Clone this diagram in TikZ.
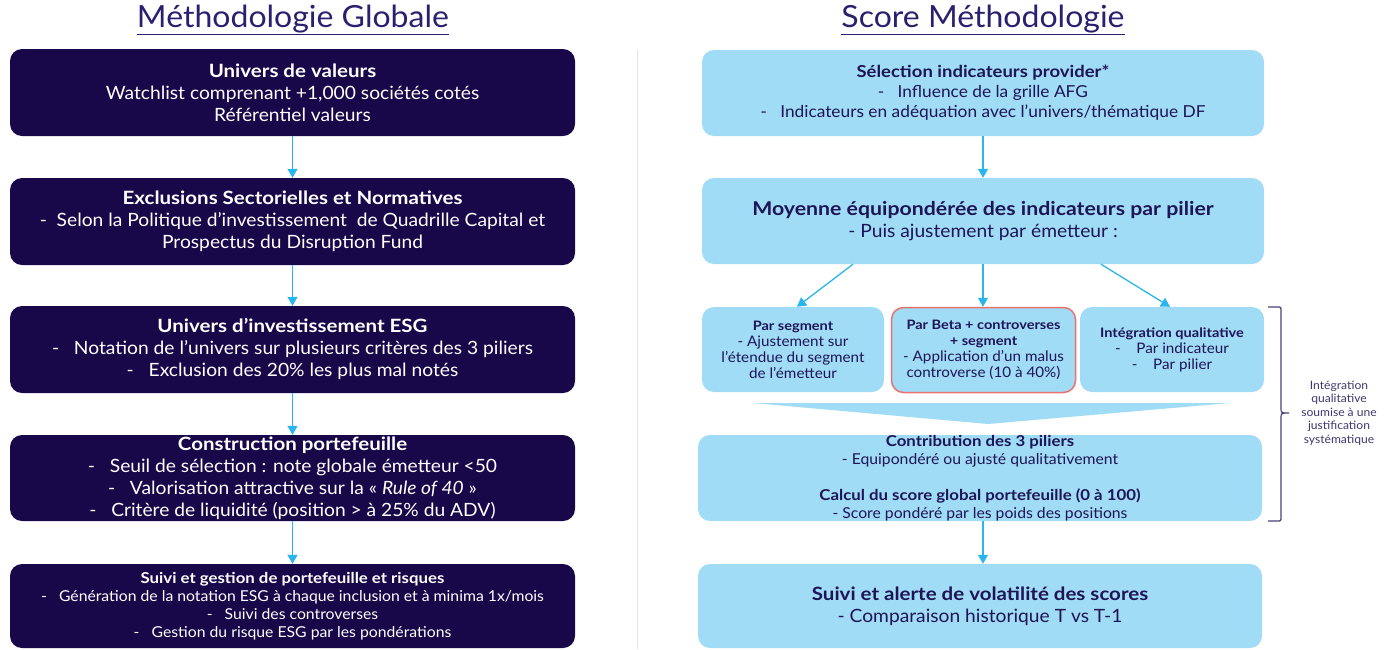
\documentclass[tikz,border=0pt]{standalone}
\usepackage{fontspec}
\setmainfont{Lato}[FakeStretch=1.05, BoldFeatures={FakeStretch=1.12}, ItalicFeatures={FakeStretch=1.05}]
\usetikzlibrary{arrows.meta}
\definecolor{navy}{HTML}{18084A}
\definecolor{navytxt}{HTML}{1E1456}
\definecolor{titlec}{HTML}{2B2070}
\definecolor{lblue}{HTML}{A0DCF5}
\definecolor{cyanarr}{HTML}{29B6EC}
\definecolor{redb}{HTML}{E8736F}
\definecolor{sepc}{HTML}{E3E3E3}
\definecolor{bracec}{HTML}{4B3F7A}
\newcommand\smhd[1]{{\fontsize{13}{16}\selectfont\textbf{#1}}}
\tikzset{
  darkbox/.style={fill=navy, rounded corners=12pt, text=white, align=center, inner sep=0pt, minimum width=565pt},
  lightbox/.style={fill=lblue, rounded corners=12pt, text=navytxt, align=center, inner sep=0pt},
  arr/.style={draw=cyanarr, line width=1.3pt, -{Triangle[length=9pt,width=10pt]}},
  ttl/.style={font=\fontsize{30.5}{34}\selectfont, text=titlec, inner sep=0pt},
  fA/.style={font=\fontsize{18.3}{22}\selectfont},
  fB/.style={font=\fontsize{15}{18}\selectfont},
  fC/.style={font=\fontsize{16.5}{20}\selectfont},
  fD/.style={font=\fontsize{14.5}{16}\selectfont},
}
\begin{document}
\begin{tikzpicture}[x=1pt,y=-1pt]
\useasboundingbox (0,0) rectangle (1390,649);
% titles
\node[ttl] (T1) at (293,20) {\underline{Méthodologie Globale}};
\node[ttl] (T2) at (983,20) {\underline{Score Méthodologie}};
% separator
\draw[sepc, line width=1pt] (637,50) -- (637,649);
% left column
\node[darkbox, minimum height=87pt, fA] (L1) at (292.5,92.5)
  {\textbf{Univers de valeurs}\\Watchlist comprenant +1,000 sociétés cotés\\Référentiel valeurs};
\node[darkbox, minimum height=87pt, fA] (L2) at (292.5,221.5)
  {\textbf{Exclusions Sectorielles et Normatives}\\-~~Selon la Politique d'investissement~ de Quadrille Capital et\\Prospectus du Disruption Fund};
\node[darkbox, minimum height=87pt, fA] (L3) at (292.5,349.5)
  {\textbf{Univers d'investissement ESG}\\-~~~Notation de l'univers sur plusieurs critères des 3 piliers\\-~~~Exclusion des 20\% les plus mal notés};
\node[darkbox, minimum height=86pt, fA] (L4) at (292.5,478)
  {\textbf{Construction portefeuille}\\-~~~Seuil de sélection : note globale émetteur <50\\-~~~Valorisation attractive sur la « \textit{Rule of 40} »\\-~~~Critère de liquidité (position > à 25\% du ADV)};
\node[darkbox, minimum height=84pt, fB] (L5) at (292.5,606)
  {\textbf{Suivi et gestion de portefeuille et risques}\\-~~~Génération de la notation ESG à chaque inclusion et à minima 1x/mois\\-~~~Suivi des controverses\\-~~~Gestion du risque ESG par les pondérations};
\draw[arr] (L1.south) -- (L2.north);
\draw[arr] (L2.south) -- (L3.north);
\draw[arr] (L3.south) -- (L4.north);
\draw[arr] (L4.south) -- (L5.north);
% right column
\node[lightbox, minimum width=562pt, minimum height=86pt, fC] (R1) at (983,93)
  {\textbf{Sélection indicateurs provider*}\\-~~~Influence de la grille AFG\\-~~~Indicateurs en adéquation avec l'univers/thématique DF};
\node[lightbox, minimum width=562pt, minimum height=86pt, fA] (R2) at (983,221)
  {{\fontsize{19}{22}\selectfont\textbf{Moyenne équipondérée des indicateurs par pilier}}\\- Puis ajustement par émetteur :};
\node[lightbox, minimum width=182pt, minimum height=85pt, fD] (A) at (793,349.5)
  {\smhd{Par segment}\\- Ajustement sur\\l'étendue du segment\\de l'émetteur};
\node[lightbox, draw=redb, line width=1.5pt, minimum width=184pt, minimum height=85pt, fD] (B) at (983.5,350)
  {\smhd{Par Beta + controverses}\\\smhd{+ segment}\\- Application d'un malus\\controverse (10 à 40\%)};
\node[lightbox, minimum width=184pt, minimum height=85pt, fD] (C) at (1172,349.5)
  {\smhd{Intégration qualitative}\\-~~~~Par indicateur\\-~~~~Par pilier};
\fill[lblue] (753,403) -- (1230,403) -- (988,424) -- cycle;
\node[lightbox, minimum width=564pt, minimum height=86pt, fB] (R4) at (980,478)
  {\textbf{Contribution des 3 piliers}\\- Equipondéré ou ajusté qualitativement\\[18pt]\textbf{Calcul du score global portefeuille (0 à 100)}\\- Score pondéré par les poids des positions};
\node[lightbox, minimum width=564pt, minimum height=84pt, fA] (R5) at (980,606)
  {\textbf{Suivi et alerte de volatilité des scores}\\- Comparaison historique T vs T-1};
\draw[arr] (R1.south) -- (R2.north);
\draw[arr] ([xshift=-130pt]R2.south) -- ([xshift=4pt]A.north);
\draw[arr] (R2.south) -- ([xshift=-0.5pt]B.north);
\draw[arr] ([xshift=118pt]R2.south) -- ([xshift=-2pt]C.north);
\draw[arr] ([xshift=3pt]R4.south) -- ([xshift=3pt]R5.north);
% brace
\draw[bracec, line width=1.2pt] (1268,307) -- (1277,307) .. controls (1281,307) .. (1281,311) -- (1281,408)
  .. controls (1281,413) .. (1289,413) .. controls (1281,413) .. (1281,418) -- (1281,517)
  .. controls (1281,521) .. (1277,521) -- (1268,521);
\node[font=\fontsize{11.5}{13.5}\selectfont, text=navytxt!85, align=center, inner sep=0pt] (lab) at (1339,413)
  {Intégration\\qualitative\\soumise à une\\justification\\systématique};
\end{tikzpicture}
\end{document}
